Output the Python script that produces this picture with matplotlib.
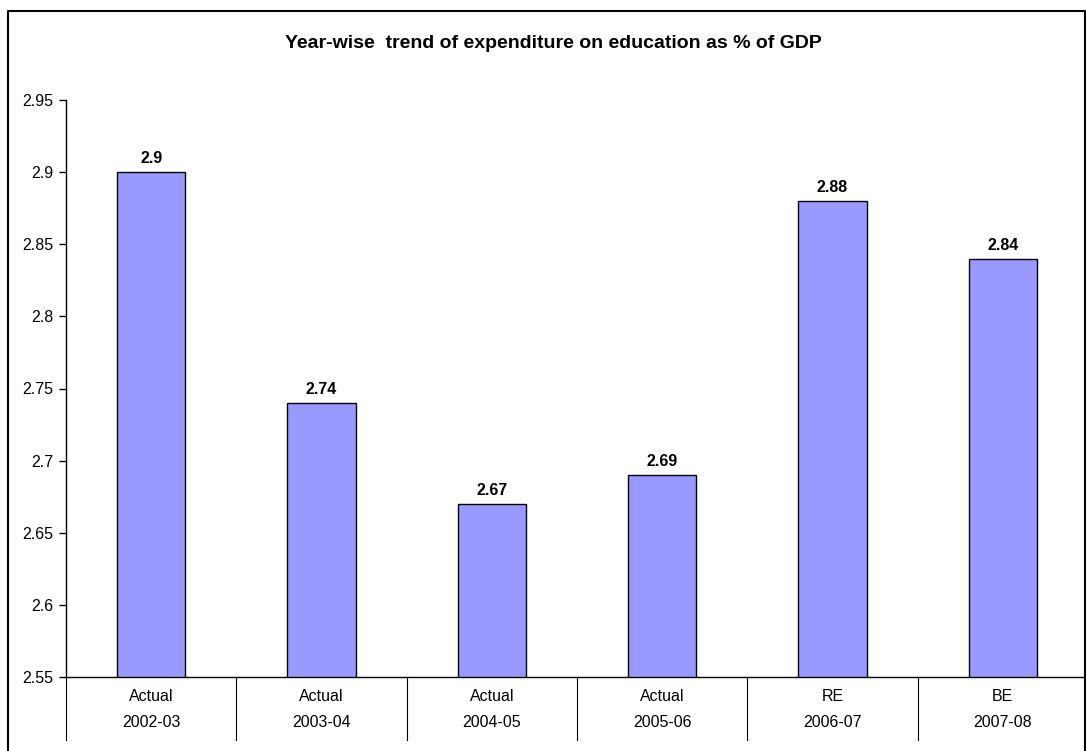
import matplotlib.pyplot as plt
from matplotlib.lines import Line2D

plt.rcParams['font.family'] = ['Liberation Sans', 'DejaVu Sans']

kinds = ['Actual', 'Actual', 'Actual', 'Actual', 'RE', 'BE']
years = ['2002-03', '2003-04', '2004-05', '2005-06', '2006-07', '2007-08']
values = [2.9, 2.74, 2.67, 2.69, 2.88, 2.84]
labels = ['2.9', '2.74', '2.67', '2.69', '2.88', '2.84']
yticks = [2.55, 2.6, 2.65, 2.7, 2.75, 2.8, 2.85, 2.9, 2.95]

fig = plt.figure(figsize=(10.86, 7.51), dpi=100)
ax = fig.add_axes([66/1086, 74/751, 1022/1086, 577/751])

x = list(range(len(values)))
ax.bar(x, values, width=0.4, color='#9999FF', edgecolor='black', linewidth=1, zorder=2)
for xi, v, s in zip(x, values, labels):
    ax.text(xi, v + 0.004, s, ha='center', va='bottom', fontsize=11.5, fontweight='bold')

ax.set_xlim(-0.5, len(values) - 0.5)
ax.set_ylim(2.55, 2.95)
ax.set_yticks(yticks)
ax.set_yticklabels([f'{t:g}' for t in yticks], fontsize=11.5)
ax.tick_params(axis='y', direction='out', length=5, width=1, pad=4)
ax.set_xticks([])
for s in ['top', 'right']:
    ax.spines[s].set_visible(False)
ax.spines['left'].set_linewidth(1)
ax.spines['bottom'].set_linewidth(1)

# two-level category labels
for xi, k, yr in zip(x, kinds, years):
    ax.text(xi, -0.033, k, transform=ax.get_xaxis_transform(), ha='center', va='center', fontsize=11.5)
    ax.text(xi, -0.078, yr, transform=ax.get_xaxis_transform(), ha='center', va='center', fontsize=11.5)
for b in range(len(values) + 1):
    ax.plot([b - 0.5, b - 0.5], [0, -0.11], transform=ax.get_xaxis_transform(),
            color='black', linewidth=0.8, clip_on=False)

fig.suptitle('Year-wise  trend of expenditure on education as % of GDP',
             x=553/1086, y=1 - 43/751, fontsize=14, fontweight='bold', va='center')

# chart border
bx = [8/1086, 8/1086, 1085/1086, 1085/1086]
by = [-0.1, 1 - 11/751, 1 - 11/751, -0.1]
fig.add_artist(Line2D(bx, by, transform=fig.transFigure, color='black', linewidth=1.5))

fig.savefig('out.png', dpi=100)
